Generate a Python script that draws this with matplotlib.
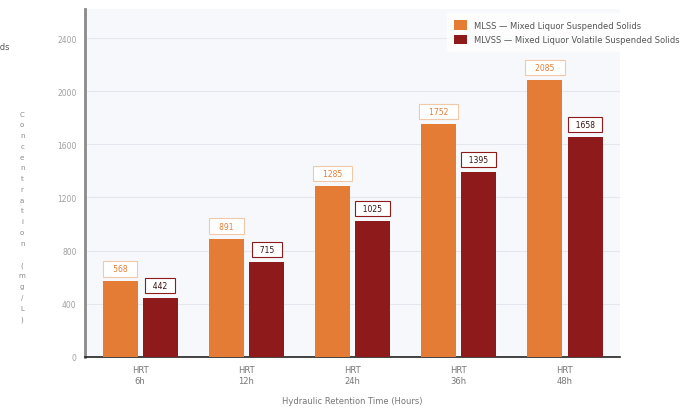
import matplotlib
matplotlib.use('Agg')
import numpy as np
from matplotlib import pyplot as plt

# data
hrt_labels = ['HRT\n6h', 'HRT\n12h', 'HRT\n24h', 'HRT\n36h', 'HRT\n48h']
mlss = [568, 891, 1285, 1752, 2085]
mlvss = [442, 715, 1025, 1395, 1658]
yticks = [0, 400, 800, 1200, 1600, 2000, 2400]

orange = '#E57C35'
darkred = '#8E1A1C'

fig = plt.figure(figsize=(6.94, 4.10), dpi=100)
ax = fig.add_axes([0.1225, 0.127, 0.771, 0.849])
ax.set_facecolor('#F6F8FB')

x = np.arange(len(hrt_labels))
w = 0.33
off = 0.19
b1 = ax.bar(x - off, mlss, w, color=orange, label='MLSS — Mixed Liquor Suspended Solids', zorder=3)
b2 = ax.bar(x + off, mlvss, w, color=darkred, label='MLVSS — Mixed Liquor Volatile Suspended Solids', zorder=3)

# boxed value labels above each bar
for xi, v in zip(x - off, mlss):
    ax.annotate('   %d   ' % v, (xi, v), xytext=(0, 9), textcoords='offset points',
                ha='center', va='center', fontsize=5.5, color=orange, zorder=4,
                bbox=dict(boxstyle='square,pad=0.4', fc='white', ec='#F2C9A8', lw=0.8))
for xi, v in zip(x + off, mlvss):
    ax.annotate('  %d  ' % v, (xi, v), xytext=(0, 9), textcoords='offset points',
                ha='center', va='center', fontsize=5.5, color='#3A1010', zorder=4,
                bbox=dict(boxstyle='square,pad=0.4', fc='white', ec=darkred, lw=0.8))

ax.set_xlim(-0.52, 4.52)
ax.set_ylim(0, 2620)
ax.set_yticks(yticks)
ax.set_yticklabels([str(t) for t in yticks], fontsize=5.5, color='#A0A0A0')
ax.set_xticks(x)
ax.set_xticklabels(hrt_labels, fontsize=6, color='#777777')
ax.tick_params(axis='both', length=0, pad=6)
ax.yaxis.grid(True, color='#E4E8EE', lw=0.8, zorder=0)
ax.set_axisbelow(True)

for s in ['top', 'right']:
    ax.spines[s].set_visible(False)
ax.spines['left'].set_color('#8A8A8A')
ax.spines['left'].set_linewidth(2)
ax.spines['bottom'].set_color('#222222')
ax.spines['bottom'].set_linewidth(1.2)

ax.set_xlabel('Hydraulic Retention Time (Hours)', fontsize=6, color='#777777', labelpad=8)

# stacked letter y label
ylab = 'Concentration (mg/L)'
fig.text(0.032, 0.47, '\n'.join(ylab), fontsize=5, color='#888888',
         ha='center', va='center', linespacing=1.95)

# clipped title fragment at the far left
fig.text(0.013, 0.885, 'Suspended Solids', fontsize=6, color='#555555', ha='right', va='center')

leg = fig.legend(handles=[b1, b2], loc='upper right', bbox_to_anchor=(0.995, 0.975),
                 fontsize=6, frameon=True, facecolor='white', edgecolor='white',
                 handlelength=1.6, handleheight=1.4, borderpad=0.8, labelspacing=0.6,
                 labelcolor='#555555')

fig.savefig('out.png', dpi=100)
